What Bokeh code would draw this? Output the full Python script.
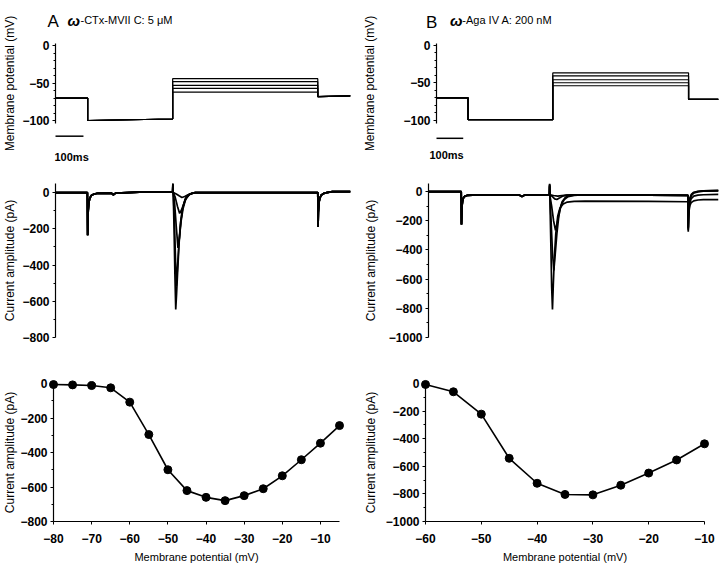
from bokeh.plotting import figure
from bokeh.layouts import column, row
from bokeh.models import Range1d, FixedTicker
from bokeh.core.properties import value
from bokeh.embed import file_html
from bokeh.resources import INLINE

FONT = "Liberation Sans"

# ---------------- data ----------------
# Voltage protocols (time in ms, potential in mV)
a_prot_t = [0, 115, 115, 419, 419, 938, 938, 1055]
a_hold = -70
a_prepulse = [-100, -98]
a_after = [-68, -67]
a_test_levels = [-44, -48, -53, -57, -62]

b_prot_t = [0, 118, 118, 435, 435, 943, 943, 1055]
b_hold = -70
b_prepulse = [-99, -99]
b_after = [-72, -72]
b_test_levels = [-37, -41, -46, -50, -54]

# Current traces, panel A (pA)
a_pre_t = [0, 114, 115, 116, 117, 119, 122, 127, 135, 150, 200, 207, 215, 300, 419]
a_pre_i = [0, 0, -235, -150, -100, -60, -35, -18, -10, -4, -3, -12, -3, 2, 2]
a_test_t = [
    [419.7, 421, 424, 427, 430, 433, 437, 442, 448, 455, 465, 480, 500],
    [419.7, 421, 425, 429, 432, 436, 441, 447, 454, 463, 475, 490, 500],
    [419.7, 421, 426, 432, 438, 443, 449, 456, 465, 477, 490, 500],
    [419.7, 421, 428, 436, 444, 451, 459, 468, 480, 495, 500],
    [419.7, 421, 432, 442, 452, 462, 474, 488, 500],
]
a_test_i = [
    [55, 0, -200, -450, -645, -560, -430, -280, -160, -85, -32, -8, 0],
    [50, 0, -140, -360, -515, -420, -290, -170, -90, -40, -12, -3, 0],
    [45, 0, -60, -190, -305, -250, -160, -90, -40, -12, -3, 0],
    [40, 0, -25, -75, -115, -95, -60, -30, -10, -2, 0],
    [35, 0, -8, -18, -27, -22, -12, -4, 0],
]
a_post_t = [700, 938, 939, 940, 942, 945, 950, 958, 970, 990, 1055]
a_post_i = [0, 0, -190, -110, -60, -32, -15, -6, 0, 5, 5]

# Current traces, panel B (pA)
b_pre_t = [0, 119, 120, 121, 122, 124, 127, 132, 140, 160, 200, 330, 340, 350, 437]
b_pre_i = [0, 0, -225, -150, -100, -65, -45, -33, -27, -24, -22, -24, -35, -24, -22]
b_test_t = [
    [440, 440.7, 442, 445, 448, 451, 454, 458, 463, 470, 478, 490, 505, 530, 570],
    [440, 440.7, 442, 446, 451, 456, 461, 467, 474, 482, 494, 508, 530, 570],
    [440, 440.7, 442, 448, 455, 462, 469, 477, 486, 498, 512, 535, 570],
    [440, 440.7, 442, 451, 459, 467, 476, 487, 502, 530, 570],
    [440, 440.7, 442, 455, 470, 485, 505, 570],
]
b_test_i = [
    [-22, 55, -80, -350, -650, -808, -640, -450, -290, -170, -115, -85, -72, -67, -66],
    [-22, 50, -50, -200, -420, -540, -430, -290, -170, -95, -55, -35, -26, -22],
    [-22, 45, -30, -100, -200, -265, -210, -130, -70, -40, -28, -23, -22],
    [-22, 40, -22, -35, -50, -55, -45, -32, -25, -22, -22],
    [-22, 35, -22, -27, -32, -28, -24, -22],
]
b_post_t = [800, 944, 945, 946, 948, 951, 956, 965, 980, 1000, 1055]
b_post_i = [
    [-68, -70, -275, -190, -130, -95, -75, -64, -58, -56, -55],
    [-24, -26, -265, -175, -115, -75, -48, -32, -25, -22, -20],
    [-24, -26, -255, -165, -95, -55, -28, -10, -2, 2, 5],
    [-24, -26, -250, -160, -90, -50, -24, -8, 0, 4, 6],
    [-24, -26, -245, -155, -85, -45, -20, -5, 2, 5, 8],
]

# Current-voltage relations
a_iv_v = [-80, -75, -70, -65, -60, -55, -50, -45, -40, -35, -30, -25, -20, -15, -10, -5]
a_iv_i = [-6, -8, -12, -25, -108, -296, -500, -621, -660, -679, -650, -610, -535, -442, -346, -244]
b_iv_v = [-60, -55, -50, -45, -40, -35, -30, -25, -20, -15, -10]
b_iv_i = [-7, -60, -222, -542, -723, -804, -807, -737, -649, -554, -437]

# tick values
mv_ticks = [0, -50, -100]
mv_minor = [0, -10, -20, -30, -40, -50, -60, -70, -80, -90, -100]
a_pa_ticks = [0, -200, -400, -600, -800]
b_pa_ticks = [0, -200, -400, -600, -800, -1000]
a_pa_minor = [-100, -300, -500, -700]
b_pa_minor = [-100, -300, -500, -700, -900]
a_iv_xticks = [-80, -70, -60, -50, -40, -30, -20, -10]
b_iv_xticks = [-60, -50, -40, -30, -20, -10]

scale_bar_ms = 100

# ---------------- layout geometry ----------------
COL_X = {"A": 0, "B": 360}
COL_W = 360
ROW_Y = [0, 150, 345, 566]


def make(col, ri, frame, xr, yr, xaxis=False):
    l, r, t, b = frame
    x0 = COL_X[col]
    y0, y1 = ROW_Y[ri], ROW_Y[ri + 1]
    p = figure(width=COL_W, height=y1 - y0,
               x_range=Range1d(*xr), y_range=Range1d(*yr),
               output_backend="svg", toolbar_location=None,
               x_axis_location="below" if xaxis else None,
               min_border_left=l - x0, min_border_right=x0 + COL_W - r,
               min_border_top=t - y0, min_border_bottom=y1 - b,
               background_fill_color="white", border_fill_color="white",
               outline_line_color=None)
    p.grid.visible = False
    p._geom = (frame, xr, yr)
    return p


def to_data(p, px, py):
    (l, r, t, b), (x0, x1), (y0, y1) = p._geom
    return (x0 + (px - l) * (x1 - x0) / (r - l),
            y1 - (py - t) * (y1 - y0) / (b - t))


def style_axis(ax, ticks, minor, label, standoff, tick_standoff=3, label_size="12px"):
    ax.ticker = FixedTicker(ticks=ticks, minor_ticks=minor)
    ax.axis_label = label
    ax.axis_label_text_font = FONT
    ax.axis_label_text_font_size = label_size
    ax.axis_label_text_font_style = "normal"
    ax.axis_label_text_color = "black"
    ax.axis_label_standoff = standoff
    ax.major_label_text_font = FONT
    ax.major_label_text_font_size = "12px"
    ax.major_label_text_font_style = "bold"
    ax.major_label_text_color = "black"
    ax.major_label_standoff = tick_standoff
    ax.major_tick_out = 3
    ax.major_tick_in = 0
    ax.minor_tick_out = 2
    ax.minor_tick_in = 0
    ax.axis_line_color = "black"
    ax.axis_line_width = 1.2
    ax.major_tick_line_color = "black"
    ax.minor_tick_line_color = "black"


def add_text(p, px, py, text, size, style="normal"):
    x, y = to_data(p, px, py)
    p.text(x=[x], y=[y], text=[text], text_font=value(FONT), text_font_size=size,
           text_font_style=style, text_baseline="alphabetic", text_align="left",
           text_color="black", level="overlay")


def add_scalebar(p, py):
    _, y = to_data(p, 0, py)
    p.segment(x0=[0], y0=[y], x1=[scale_bar_ms], y1=[y], line_color="black",
              line_width=1.5, level="overlay")


# ---------------- panel A ----------------
A1 = make("A", 0, (55, 350, 43, 125), (0, 1055), (-104, 3))
style_axis(A1.yaxis[0], mv_ticks, mv_minor, "Membrane potential (mV)", 2)
for lev in a_test_levels:
    vs = [a_hold, a_hold, a_prepulse[0], a_prepulse[1], lev, lev, a_after[0], a_after[1]]
    A1.line(a_prot_t, vs, line_color="black", line_width=1.2)
add_text(A1, 47, 20.5, "A", "17px")
add_text(A1, 67, 19, "ω", "15px", "bold italic")
add_text(A1, 80, 18.5, "-CTx-MVII C: 5 μM", "11px")
add_scalebar(A1, 138)

A2 = make("A", 1, (55, 350, 182, 337), (0, 1055), (-800, 50))
style_axis(A2.yaxis[0], a_pa_ticks, a_pa_minor, "Current amplitude (pA)", 2)
for tt, ii in zip(a_test_t, a_test_i):
    A2.line(a_pre_t + tt + a_post_t, a_pre_i + ii + a_post_i,
            line_color="black", line_width=1.7)
add_text(A2, 54, 155, "100ms", "11px", "bold")

A3 = make("A", 2, (53, 339, 382, 521), (-80, -5), (-800, 0), xaxis=True)
style_axis(A3.yaxis[0], a_pa_ticks, a_pa_minor, "Current amplitude (pA)", 0)
style_axis(A3.xaxis[0], a_iv_xticks, [], "Membrane potential (mV)", 5, 9, "11px")
A3.line(a_iv_v, a_iv_i, line_color="black", line_width=1.6, level="overlay")
A3.scatter(a_iv_v, a_iv_i, size=8, fill_color="black", line_color="black", level="overlay")

# ---------------- panel B ----------------
B1 = make("B", 0, (423, 718, 42, 123), (0, 1055), (-104, 2))
style_axis(B1.yaxis[0], mv_ticks, mv_minor, "Membrane potential (mV)", 23)
for lev in b_test_levels:
    vs = [b_hold, b_hold, b_prepulse[0], b_prepulse[1], lev, lev, b_after[0], b_after[1]]
    B1.line(b_prot_t, vs, line_color="black", line_width=1.2)
add_text(B1, 412, 20.5, "B", "17px")
add_text(B1, 437, 19, "ω", "15px", "bold italic")
add_text(B1, 450, 18.5, "-Aga IV A: 200 nM", "11px")
add_scalebar(B1, 138)

B2 = make("B", 1, (423, 718, 183, 337), (0, 1055), (-1000, 55))
style_axis(B2.yaxis[0], b_pa_ticks, b_pa_minor, "Current amplitude (pA)", 8)
for tt, ii, pi in zip(b_test_t, b_test_i, b_post_i):
    B2.line(b_pre_t + tt + b_post_t, b_pre_i + ii + pi,
            line_color="black", line_width=1.7)
add_text(B2, 424, 154, "100ms", "11px", "bold")

B3 = make("B", 2, (423, 704, 383, 522), (-60, -10), (-1000, 0), xaxis=True)
style_axis(B3.yaxis[0], b_pa_ticks, b_pa_minor, "Current amplitude (pA)", 5)
style_axis(B3.xaxis[0], b_iv_xticks, [], "Membrane potential (mV)", 5, 9, "11px")
B3.line(b_iv_v, b_iv_i, line_color="black", line_width=1.6, level="overlay")
B3.scatter(b_iv_v, b_iv_i, size=8, fill_color="black", line_color="black", level="overlay")

layout = column(row(A1, B1), row(A2, B2), row(A3, B3))
open("out.html", "w").write(file_html(layout, INLINE))
